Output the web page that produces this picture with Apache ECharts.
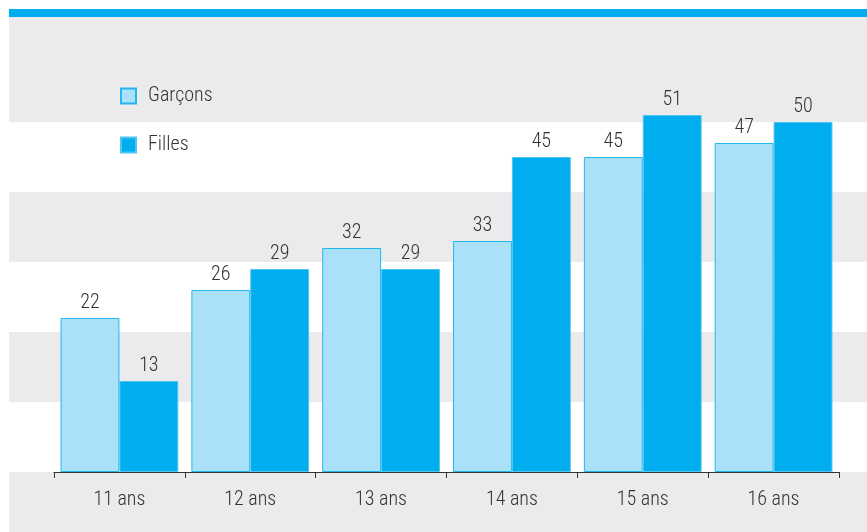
<!DOCTYPE html>
<html>
<head>
<meta charset="utf-8">
<script src="https://cdn.jsdelivr.net/npm/echarts@6/dist/echarts.min.js"></script>
<style>
html,body{margin:0;padding:0;background:#fff;}
#c{width:867px;height:532px;}
</style>
</head>
<body>
<div id="c"></div>
<script>
const categories = ['11 ans', '12 ans', '13 ans', '14 ans', '15 ans', '16 ans'];
const garcons = [22, 26, 32, 33, 45, 47];
const filles = [13, 29, 29, 45, 51, 50];
const seriesNames = ['Garçons', 'Filles'];

const FONT = "'Roboto Condensed', 'DejaVu Sans Condensed', sans-serif";
const TXT = '#333333';
const GREY = '#EBEBEE';
const FS = 20;

const chart = echarts.init(document.getElementById('c'), null, {renderer: 'canvas'});
chart.setOption({
  animation: false,
  backgroundColor: '#ffffff',
  textStyle: {fontFamily: FONT},
  graphic: [
    {type: 'rect', z: 0, shape: {x: 9, y: 9, width: 858, height: 8}, style: {fill: '#00AEEF'}},
    {type: 'rect', z: 0, shape: {x: 9, y: 472, width: 858, height: 60}, style: {fill: GREY}}
  ],
  legend: {
    orient: 'vertical',
    left: 120,
    top: 86,
    padding: 0,
    itemWidth: 15,
    itemHeight: 15,
    itemGap: 29,
    icon: 'rect',
    data: seriesNames,
    textStyle: {fontFamily: FONT, fontWeight: 300, fontSize: FS, color: TXT, padding: [0, 0, 0, 7]}
  },
  grid: [
    {left: 54, right: 28, top: 17, bottom: 60, z: 5},
    {left: 9, right: 0, top: 17, bottom: 60, z: 1}
  ],
  xAxis: [
    {
      type: 'category', gridIndex: 0, data: categories, z: 6,
      axisLine: {lineStyle: {color: '#333', width: 1}},
      axisTick: {show: true, length: 6, lineStyle: {color: '#333'}},
      axisLabel: {fontFamily: FONT, fontWeight: 300, fontSize: FS, color: TXT, margin: 18}
    },
    {type: 'category', gridIndex: 1, data: categories, show: false}
  ],
  yAxis: [
    {type: 'value', gridIndex: 0, min: 0, max: 65, interval: 10, show: false, splitLine: {show: false}},
    {
      type: 'value', gridIndex: 1, min: 0, max: 65, interval: 10, z: 1,
      axisLine: {show: false}, axisTick: {show: false}, axisLabel: {show: false},
      splitLine: {show: false},
      splitArea: {show: true, areaStyle: {color: ['#ffffff', GREY, '#ffffff', GREY, '#ffffff', GREY, GREY]}}
    }
  ],
  series: [
    {
      name: seriesNames[0], type: 'bar', xAxisIndex: 0, yAxisIndex: 0, z: 7,
      data: garcons, barGap: '0%', barCategoryGap: '10%',
      itemStyle: {color: '#ABE0F9', borderColor: '#22B8EE', borderWidth: 1},
      label: {show: true, position: 'top', distance: 5, fontFamily: FONT, fontWeight: 300, fontSize: FS, color: TXT}
    },
    {
      name: seriesNames[1], type: 'bar', xAxisIndex: 0, yAxisIndex: 0, z: 7,
      data: filles, barGap: '0%', barCategoryGap: '10%',
      itemStyle: {color: '#00AEEF', borderColor: '#4FC6F2', borderWidth: 1},
      label: {show: true, position: 'top', distance: 5, fontFamily: FONT, fontWeight: 300, fontSize: FS, color: TXT}
    }
  ]
});
</script>
</body>
</html>
